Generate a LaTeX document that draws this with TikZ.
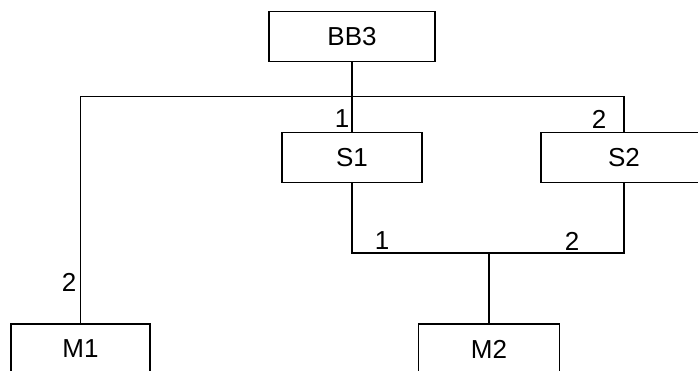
\documentclass[tikz,border=0pt]{standalone}
\usepackage{fontspec}
\setmainfont{Liberation Sans}
\begin{document}
\begin{tikzpicture}[x=1pt,y=-1pt,
  blk/.style={draw,line width=1.3pt,rectangle,minimum height=50pt,inner sep=0pt,
    font=\fontsize{26}{30}\selectfont},
  wire/.style={line width=1.3pt},
  num/.style={inner sep=0pt,font=\fontsize{26}{30}\selectfont}]
\useasboundingbox (0,0) rectangle (698,370);
\clip (0,0) rectangle (698,370);
% blocks
\node[blk,minimum width=166pt] (bb3) at (352,36.5) {BB3};
\node[blk,minimum width=140pt] (s1) at (352,157.5) {S1};
\node[blk,minimum width=166pt] (s2) at (624,157.5) {S2};
\node[blk,minimum width=139pt] (m1) at (80.5,349) {M1};
\node[blk,minimum width=141pt] (m2) at (489,349) {M2};
% junction points
\coordinate (jt) at (352,96.5);
\coordinate (jl) at (80.5,96.5);
\coordinate (jr) at (624,96.5);
\coordinate (jb) at (489,253);
% upper distribution
\draw[wire] (bb3.south) -- (jt);
\draw[wire] (m1.north) -- (jl) -- (jr) -- (s2.north);
\draw[wire] (jt) -- (s1.north);
% lower collection
\draw[wire] (s1.south) -- (s1.south |- jb) -- (s2.south |- jb) -- (s2.south);
\draw[wire] (jb) -- (m2.north);
% port numbers
\node[num] (p1) at (342,119) {1};
\node[num] (p2) at (599,119) {2};
\node[num] (p3) at (382,241) {1};
\node[num] (p4) at (572,241) {2};
\node[num] (p5) at (69,282) {2};
\end{tikzpicture}
\end{document}
